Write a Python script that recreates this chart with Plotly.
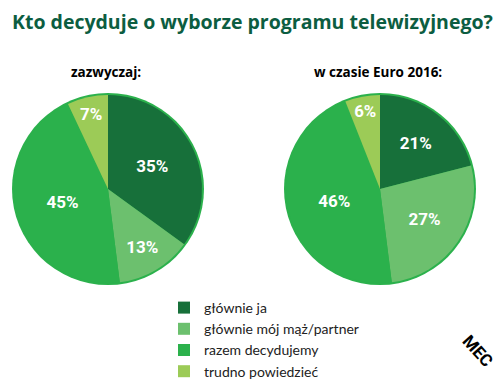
import plotly.graph_objects as go

categories = ["głównie ja", "głównie mój mąż/partner", "razem decydujemy", "trudno powiedzieć"]
usually_values = [35, 13, 45, 7]
euro_values = [21, 27, 46, 6]
pie_titles = ["zazwyczaj:", "w czasie Euro 2016:"]
chart_title = "Kto decyduje o wyborze programu telewizyjnego?"

colors = ["#17703a", "#6cc06e", "#2bb14c", "#9ccb57"]
OFF = 8  # page body margin
W, H = 504 - OFF, 390 - OFF

def px_x(x):
    return (x - OFF) / W

def px_y(y):
    return 1 - (y - OFF) / H

R = 94
centers = [(108, 189), (380, 189)]

fig = go.Figure()
for i, (vals, (cx, cy)) in enumerate(zip([usually_values, euro_values], centers)):
    fig.add_trace(go.Pie(
        labels=categories,
        values=vals,
        sort=False,
        direction="clockwise",
        rotation=0,
        marker=dict(colors=colors, line=dict(width=0)),
        texttemplate="%{value}%",
        textposition="inside",
        insidetextorientation="horizontal",
        textfont=dict(family="Roboto", size=17, color="white", weight="bold"),
        domain=dict(x=[px_x(cx - R), px_x(cx + R)], y=[px_y(cy + R), px_y(cy - R)]),
        showlegend=(i == 0),
        hoverinfo="label+value",
    ))
    fig.add_shape(type="circle", xref="paper", yref="paper",
                  x0=px_x(cx - R - 2), x1=px_x(cx + R + 2),
                  y0=px_y(cy + R + 2), y1=px_y(cy - R - 2),
                  fillcolor=colors[2], line=dict(width=0), layer="below")
    fig.add_annotation(text=pie_titles[i], x=px_x(cx - 2), y=px_y(72), xref="paper", yref="paper",
                       showarrow=False, xanchor="center", yanchor="middle",
                       font=dict(family="Open Sans", size=13.5, color="black", weight="bold"))

fig.add_annotation(text=chart_title, x=px_x(252), y=px_y(21), xref="paper", yref="paper",
                   showarrow=False, xanchor="center", yanchor="middle",
                   font=dict(family="Open Sans", size=19.5, color="#0c5d41", weight="bold"))

fig.add_annotation(text="MEC", x=px_x(478), y=px_y(351), xref="paper", yref="paper",
                   showarrow=False, textangle=48, xanchor="center", yanchor="middle",
                   font=dict(family="Roboto", size=17, color="black", weight="bold"))

fig.update_layout(
    width=W, height=H,
    margin=dict(l=0, r=0, t=0, b=0),
    paper_bgcolor="white",
    plot_bgcolor="white",
    legend=dict(x=px_x(164), y=px_y(292), xanchor="left", yanchor="top",
                font=dict(family="Lato", size=14, color="#222222"),
                itemwidth=30, bgcolor="rgba(0,0,0,0)"),
)

fig.write_html("out.html")
